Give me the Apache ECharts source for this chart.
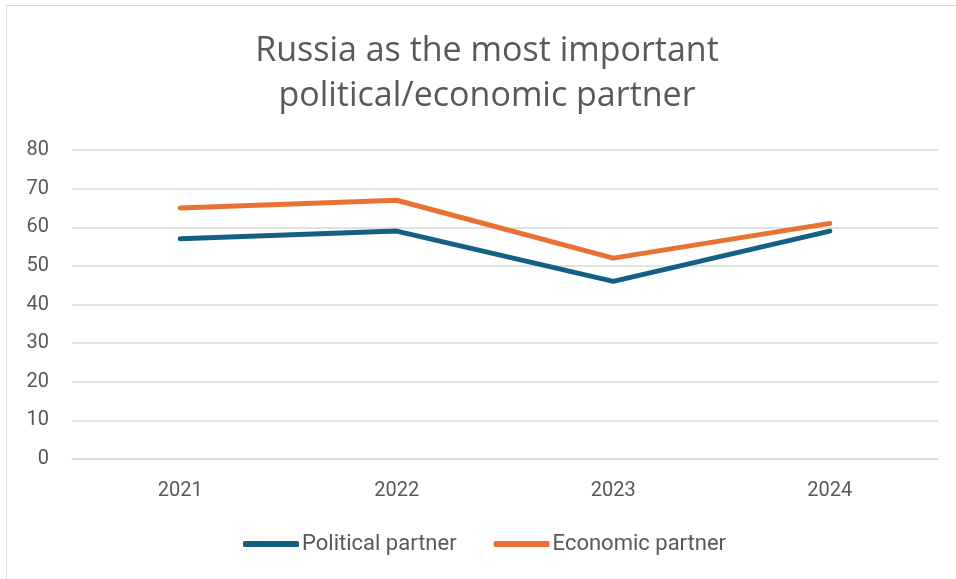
<!DOCTYPE html>
<html>
<head>
<meta charset="utf-8">
<style>
  html, body { margin: 0; padding: 0; background: #fff; }
  #frame { position: absolute; left: 6px; top: 5px; width: 960px; height: 600px; border: 1.5px solid #d9d9d9; box-sizing: border-box; }
  #chart { position: absolute; left: 0; top: 0; width: 956px; height: 579px; }
</style>
<script src="https://cdn.jsdelivr.net/npm/echarts@6/dist/echarts.min.js"></script>
</head>
<body>
<div id="frame"></div>
<div id="chart"></div>
<script>
const years = ['2021', '2022', '2023', '2024'];
const political = [57, 59, 46, 59];
const economic = [65, 67, 52, 61];
const yTicks = { min: 0, max: 80, interval: 10 };

const chart = echarts.init(document.getElementById('chart'), null, { renderer: 'canvas' });
const textColor = '#595959';
const fontFamily = 'Roboto, "Liberation Sans", sans-serif';

chart.setOption({
  animation: false,
  title: {
    text: 'Russia as the most important\npolitical/economic partner',
    left: 482, top: 24, textAlign: 'center',
    textStyle: {
      fontFamily: '"Open Sans", Roboto, sans-serif',
      fontWeight: 'normal', fontSize: 34, lineHeight: 45, color: textColor
    }
  },
  grid: { left: 72, right: 18, top: 150, bottom: 120, containLabel: false },
  legend: {
    top: 528, left: 238,
    itemWidth: 56, itemHeight: 6, itemGap: 37,
    icon: 'roundRect',
    textStyle: { fontFamily, fontSize: 22, color: textColor, padding: [0, 0, 0, -2] },
    data: ['Political partner', 'Economic partner']
  },
  xAxis: {
    type: 'category', data: years, boundaryGap: true,
    axisLine: { show: true, lineStyle: { color: '#d9d9d9', width: 1.5 } },
    axisTick: { show: false },
    axisLabel: { fontFamily, fontSize: 20, color: textColor, margin: 22 }
  },
  yAxis: {
    type: 'value', min: yTicks.min, max: yTicks.max, interval: yTicks.interval,
    axisLine: { show: false }, axisTick: { show: false },
    splitLine: { lineStyle: { color: '#d9d9d9', width: 1.5 } },
    axisLabel: { fontFamily, fontSize: 20, color: textColor, margin: 23 }
  },
  series: [
    {
      name: 'Political partner', type: 'line', data: political,
      symbol: 'none', color: '#156082',
      lineStyle: { width: 5, cap: 'round', join: 'round' }
    },
    {
      name: 'Economic partner', type: 'line', data: economic,
      symbol: 'none', color: '#E97132',
      lineStyle: { width: 5, cap: 'round', join: 'round' }
    }
  ]
});
</script>
</body>
</html>
